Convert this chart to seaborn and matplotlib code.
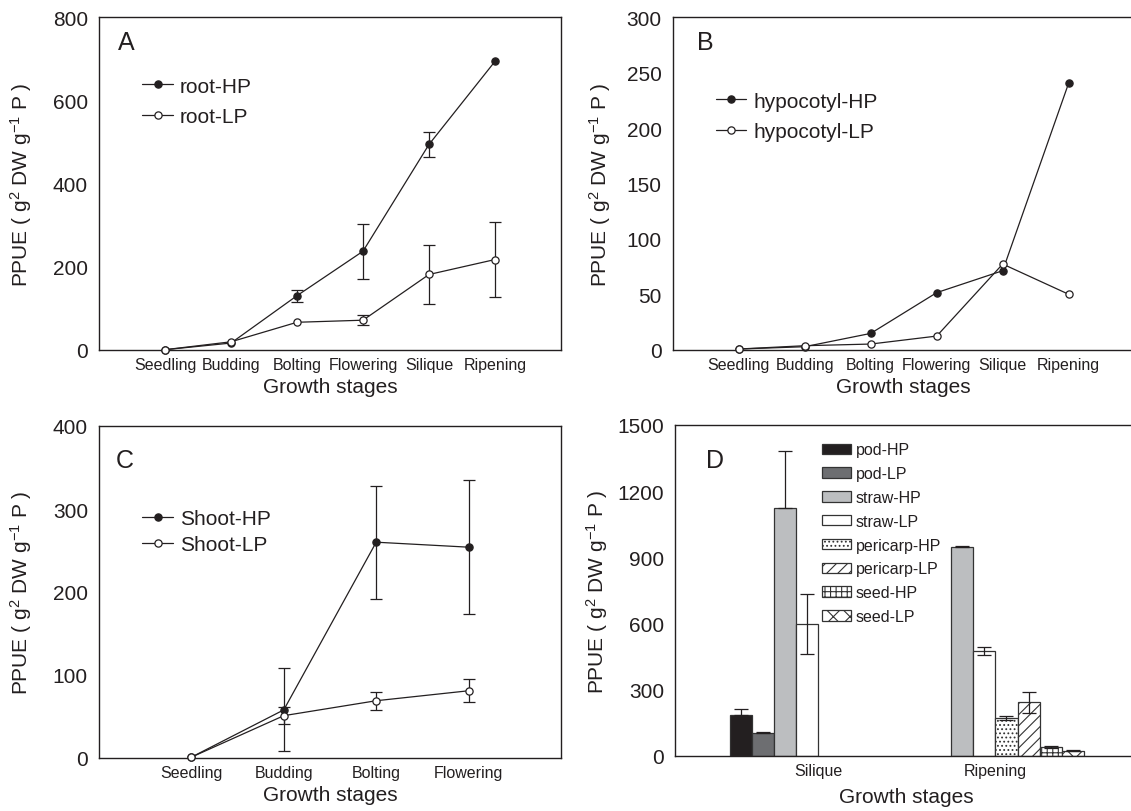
import matplotlib
matplotlib.use("Agg")
import numpy as np
import pandas as pd
import seaborn as sns
import matplotlib.pyplot as plt
from matplotlib.patches import Patch

# ---------------- data ----------------
stages_AB = ["Seedling", "Budding", "Bolting", "Flowering", "Silique", "Ripening"]
root_hp = [0, 16, 130, 237, 494, 694]
root_hp_err = [0, 0, 14, 66, 30, 0]
root_lp = [0, 19, 66, 71, 181, 217]
root_lp_err = [0, 0, 0, 12, 71, 90]

hypo_hp = [0.6, 2.7, 14.7, 51.5, 71.3, 240.7]
hypo_lp = [0.6, 3.6, 5.1, 12.3, 77.3, 50.0]

stages_C = ["Seedling", "Budding", "Bolting", "Flowering"]
shoot_hp = [1, 58, 260, 254]
shoot_hp_err = [0, 50, 68, 81]
shoot_lp = [1, 51, 69, 81]
shoot_lp_err = [0, 10, 11, 14]

stages_D = ["Silique", "Ripening"]
parts_D = ["pod-HP", "pod-LP", "straw-HP", "straw-LP",
           "pericarp-HP", "pericarp-LP", "seed-HP", "seed-LP"]
silique_vals = [187, 104, 1126, 598, np.nan, np.nan, np.nan, np.nan]
silique_err = [26, 3, 254, 134, np.nan, np.nan, np.nan, np.nan]
ripening_vals = [np.nan, np.nan, 948, 474, 172, 243, 41, 24]
ripening_err = [np.nan, np.nan, 3, 18, 11, 48, 4, 3]

# ---------------- style ----------------
sns.set_theme(style="white")
plt.rcParams["font.family"] = ["Liberation Sans", "DejaVu Sans"]
plt.rcParams["mathtext.fontset"] = "custom"
plt.rcParams["mathtext.rm"] = "Liberation Sans"
plt.rcParams["mathtext.it"] = "Liberation Sans:italic"
plt.rcParams["mathtext.bf"] = "Liberation Sans:bold"
plt.rcParams["hatch.color"] = "#333333"
plt.rcParams["hatch.linewidth"] = 0.8

INK = "#231f20"
YLABEL = "PPUE ( g$^{2}$ DW g$^{-1}$ P )"

W, H = 1131, 812
fig = plt.figure(figsize=(W / 100, H / 100), dpi=100)


def px_axes(left, top, right, bottom):
    return fig.add_axes([left / W, (H - bottom) / H, (right - left) / W, (bottom - top) / H])


axA = px_axes(99, 18.3, 561, 350.7)
axB = px_axes(672.7, 18.3, 1134.7, 350.7)
axC = px_axes(99, 427, 561, 759)
axD = px_axes(675, 426, 1137, 757)


def style_axes(ax, ylim, yticks, xlen=4):
    ax.set_ylim(*ylim)
    ax.set_yticks(yticks)
    for s in ax.spines.values():
        s.set_visible(True)
        s.set_linewidth(1.0)
        s.set_color(INK)
    ax.tick_params(axis="x", direction="in", length=xlen, width=0.9, color=INK,
                   labelsize=11.5, pad=5, labelcolor=INK)
    ax.tick_params(axis="y", length=0, labelsize=15, pad=8, labelcolor=INK)
    ax.set_ylabel(YLABEL, fontsize=15, color=INK)
    ax.set_xlabel("Growth stages", fontsize=15, color=INK)
    ax.yaxis.set_label_coords(-0.14, 0.5)
    ax.grid(False)


def line_panel(ax, stages, hp, lp, hp_err, lp_err, labels, legend_pos, lspace):
    sns.lineplot(x=stages, y=hp, ax=ax, color=INK, lw=0.9, marker="o", markersize=5.2,
                 markerfacecolor=INK, markeredgecolor=INK, markeredgewidth=0.9,
                 label=labels[0], clip_on=False, zorder=4, sort=False)
    sns.lineplot(x=stages, y=lp, ax=ax, color=INK, lw=0.9, marker="o", markersize=5.2,
                 markerfacecolor="white", markeredgecolor=INK, markeredgewidth=0.9,
                 label=labels[1], clip_on=False, zorder=4, sort=False)
    for vals, errs in ((hp, hp_err), (lp, lp_err)):
        if errs is None:
            continue
        xs = [s for s, e in zip(stages, errs) if e > 0]
        ys = [v for v, e in zip(vals, errs) if e > 0]
        es = [e for e in errs if e > 0]
        if xs:
            ax.errorbar(xs, ys, yerr=es, fmt="none", ecolor=INK, elinewidth=0.9,
                        capsize=4, capthick=0.9, zorder=3)
    ax.set_xlim(-1, len(stages))
    ax.legend(loc="center left", bbox_to_anchor=legend_pos, frameon=False, fontsize=15,
              handlelength=1.45, handletextpad=0.35, labelspacing=lspace,
              borderpad=0, borderaxespad=0, labelcolor=INK)


# Panel A
line_panel(axA, stages_AB, root_hp, root_lp, root_hp_err, root_lp_err,
           ["root-HP", "root-LP"], (0.094, 0.747), 0.55)
style_axes(axA, (0, 800), [0, 200, 400, 600, 800])
axA.xaxis.set_label_coords(0.5, -0.082)
axA.text(0.041, 0.905, "A", transform=axA.transAxes, fontsize=18, color=INK, va="baseline")

# Panel B
line_panel(axB, stages_AB, hypo_hp, hypo_lp, None, None,
           ["hypocotyl-HP", "hypocotyl-LP"], (0.094, 0.702), 0.55)
style_axes(axB, (0, 300), [0, 50, 100, 150, 200, 250, 300])
axB.xaxis.set_label_coords(0.5, -0.082)
axB.yaxis.set_label_coords(-0.129, 0.5)
axB.text(0.052, 0.905, "B", transform=axB.transAxes, fontsize=18, color=INK, va="baseline")

# Panel C
line_panel(axC, stages_C, shoot_hp, shoot_lp, shoot_hp_err, shoot_lp_err,
           ["Shoot-HP", "Shoot-LP"], (0.094, 0.681), 0.33)
style_axes(axC, (0, 400), [0, 100, 200, 300, 400])
axC.xaxis.set_label_coords(0.5, -0.082)
axC.text(0.036, 0.876, "C", transform=axC.transAxes, fontsize=18, color=INK, va="baseline")

# Panel D
rows = []
for stage, vals, errs in ((stages_D[0], silique_vals, silique_err),
                          (stages_D[1], ripening_vals, ripening_err)):
    for part, v, e in zip(parts_D, vals, errs):
        if not np.isnan(v):
            rows.append({"stage": stage, "part": part, "value": v, "err": e})
dfD = pd.DataFrame(rows)

fills = ["#231f20", "#6d6e71", "#bcbec0", "white", "white", "white", "white", "white"]
hatches = ["", "", "", "", "....", "///", "+++", "xx"]
palette = dict(zip(parts_D, fills))

sns.barplot(data=dfD, x="stage", y="value", hue="part", order=stages_D, hue_order=parts_D,
            palette=palette, saturation=1, width=1.0, errorbar=None, edgecolor="#333333",
            linewidth=0.9, legend=False, ax=axD, zorder=2)

nparts = len(parts_D)
for p in list(axD.patches):
    w = p.get_width()
    cx = p.get_x() + w / 2
    ci = int(round(cx))
    slot = int(round((cx - ci) / w + (nparts - 1) / 2))
    p.set_hatch(hatches[slot])
    rec = dfD[(dfD.stage == stages_D[ci]) & (dfD.part == parts_D[slot])]
    if len(rec):
        e = float(rec.err.iloc[0])
        y = p.get_height()
        if fills[slot] == "white":
            yerr = [[e], [e]]
        else:
            yerr = [[0], [e]]
        axD.errorbar([cx], [y], yerr=yerr, fmt="none", ecolor=INK, elinewidth=0.9,
                     capsize=5, capthick=0.9, zorder=3)

axD.set_xlim(-0.81, 1.8)
style_axes(axD, (0, 1500), [0, 300, 600, 900, 1200, 1500], xlen=0)
axD.xaxis.set_label_coords(0.5, -0.094)
axD.text(0.067, 0.873, "D", transform=axD.transAxes, fontsize=18, color=INK, va="baseline")

handles = [Patch(facecolor=f, edgecolor="#333333", hatch=h, linewidth=0.9, label=l)
           for f, h, l in zip(fills, hatches, parts_D)]
axD.legend(handles=handles, loc="center left", bbox_to_anchor=(0.318, 0.673), frameon=False,
           fontsize=11.5, handlelength=1.82, handleheight=0.63, handletextpad=0.3,
           labelspacing=0.55, borderpad=0, borderaxespad=0, labelcolor=INK)

fig.savefig("out.png", dpi=100)
